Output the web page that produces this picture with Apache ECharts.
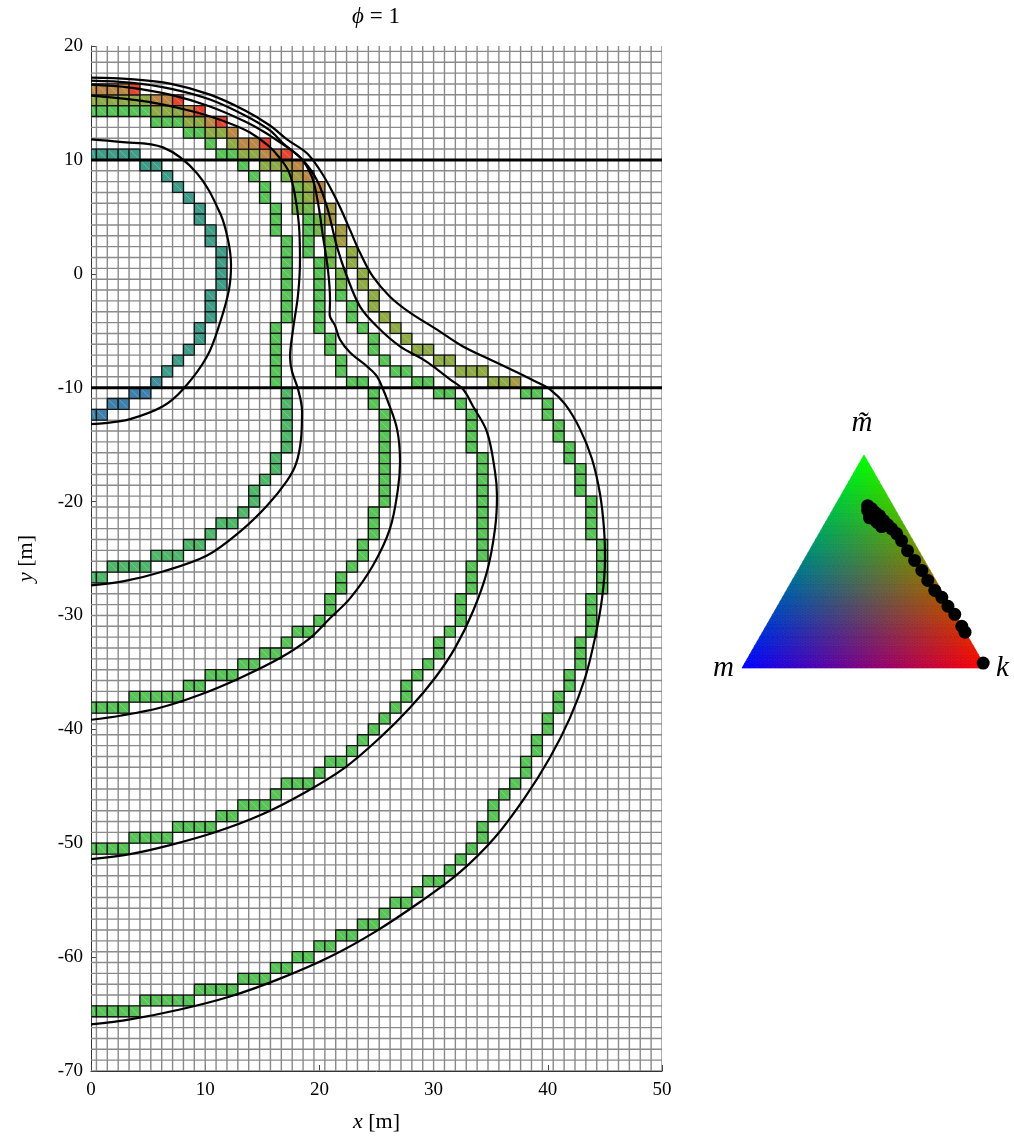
<!DOCTYPE html>
<html><head><meta charset="utf-8">
<script src="https://cdn.jsdelivr.net/npm/echarts@6/dist/echarts.min.js"></script>
<style>html,body{margin:0;padding:0;background:#fff}#c{width:1014px;height:1138px}</style>
</head><body><div id="c"></div><script>
// ---------- data ----------
const cellSize = 20/21;               // mesh cell size [m]
const xTicks = [0,10,20,30,40,50];
const yTicks = [20,10,0,-10,-20,-30,-40,-50,-60,-70];
const levelLines = [10,-10];

// contour curves (x, y) in metres
const curve1 = [[0,11.8],[2.54,11.58],[6.3,11.1],[9.28,8.83],[11.3,5.33],[12.0,2.97],[12.26,0.79],[12.08,-1.4],[11.3,-4.28],[10.16,-7.26],[8.06,-10.14],[6.3,-11.63],[3.42,-12.76],[1.23,-13.11],[0,-13.2]];
const curve2 = [[0,15.65],[4.9,15.12],[9.28,14.16],[12.17,13.2],[13.92,12.41],[15.5,11.28],[16.55,10.14],[17.34,8.92],[17.86,6.91],[18.21,4.28],[18.3,1.22],[18.13,-1.84],[17.69,-4.9],[17.43,-7.34],[17.6,-8.57],[18.13,-10.14],[18.48,-12.06],[18.39,-14.51],[17.95,-16.7],[17.16,-18.18],[15.41,-20.37],[13.05,-22.64],[10.16,-24.74],[6.3,-26.14],[2.8,-27.01],[0,-27.36]];
const curve3 = [[0,16.61],[3.42,16.35],[6.92,15.73],[10.42,14.69],[13.49,13.37],[15.24,12.41],[16.29,11.71],[18.3,10.23],[19.35,8.48],[19.88,6.21],[20.32,3.23],[20.75,0.35],[20.93,-2.27],[20.9,-3.6],[21.37,-4.55],[21.8,-5.77],[22.68,-6.91],[24.17,-8.13],[25.04,-9.0],[25.57,-10.14],[25.92,-11.01],[26.8,-13.64],[27.06,-16.52],[26.88,-18.88],[26.18,-22.38],[24.69,-25.61],[22.68,-28.5],[20.93,-30.24],[19.18,-31.99],[16.55,-33.74],[13.05,-35.49],[9.54,-36.97],[6.04,-38.11],[2.54,-38.81],[0,-39.16]];
const curve4 = [[0,16.96],[3.42,16.78],[6.92,16.26],[10.42,15.3],[13.49,13.9],[15.67,12.59],[16.81,11.45],[18.56,9.97],[19.79,8.22],[20.67,5.86],[21.54,2.36],[22.42,-0.26],[23.56,-2.88],[25.04,-4.63],[27.06,-6.38],[29.07,-7.52],[30.3,-8.39],[31.44,-9.27],[32.58,-10.14],[33.45,-11.63],[34.68,-13.9],[35.38,-17.39],[35.55,-19.49],[35.38,-22.38],[34.68,-26.14],[33.45,-29.63],[31.87,-32.87],[30.12,-35.49],[27.93,-38.11],[25.31,-40.73],[22.24,-43.36],[18.74,-45.54],[14.8,-47.55],[10.86,-49.04],[6.92,-50.17],[3.42,-50.96],[0,-51.4]];
const curve5 = [[0,17.22],[3.42,17.09],[6.92,16.7],[10.42,15.73],[13.49,14.34],[15.67,13.02],[17.16,11.8],[18.91,10.58],[20.05,9.09],[20.93,7.6],[21.8,5.86],[22.68,3.85],[23.56,1.84],[24.69,-0.26],[26.18,-2.01],[27.93,-3.41],[30.3,-4.9],[32.57,-6.38],[34.94,-7.52],[37.3,-8.65],[39.05,-9.53],[40.19,-10.14],[41.51,-11.45],[42.82,-13.64],[43.87,-16.26],[44.57,-19.32],[44.92,-22.38],[45.01,-25.0],[44.75,-28.5],[44.13,-31.99],[43.26,-35.49],[41.94,-38.99],[40.19,-42.48],[38.0,-45.98],[35.38,-49.48],[32.31,-52.54],[28.81,-55.16],[24.87,-57.78],[20.93,-59.97],[16.55,-61.89],[12.17,-63.46],[7.79,-64.6],[3.42,-65.47],[0,-65.91]];

// front cells as runs: [row k, first column i, last column i, colour key]
const front1 = [[84,0,4,'t'],[83,5,6,'t'],[82,7,7,'t'],[81,8,8,'t'],[80,9,9,'t'],[79,10,10,'t'],[78,10,10,'t'],[77,11,11,'t'],[76,11,11,'t'],[75,12,12,'t'],[74,12,12,'t'],[73,12,12,'t'],[72,12,12,'t'],[71,11,11,'t'],[70,11,11,'t'],[69,11,11,'t'],[68,10,10,'t'],[67,10,10,'t'],[66,9,9,'t'],[65,8,8,'t'],[64,7,7,'t'],[63,6,6,'tb'],[62,4,5,'u'],[61,2,3,'u'],[60,0,1,'u']];
const front2 = [[88,0,5,'g'],[87,6,8,'g'],[86,9,10,'g'],[85,11,11,'g'],[84,12,13,'g'],[83,14,14,'g'],[82,15,15,'g'],[81,16,16,'g'],[80,16,16,'g'],[79,17,17,'g'],[78,17,17,'g'],[77,17,17,'g'],[76,18,18,'g'],[75,18,18,'g'],[74,18,18,'g'],[73,18,18,'g'],[72,18,18,'g'],[71,18,18,'g'],[70,18,18,'g'],[69,18,18,'g'],[68,17,17,'g'],[67,17,17,'g'],[66,17,17,'g'],[65,17,17,'g'],[64,17,17,'g'],[63,17,17,'g'],[62,18,18,'gt'],[61,18,18,'gt'],[60,18,18,'gt'],[59,18,18,'gt'],[58,18,18,'gt'],[57,18,18,'gt'],[56,17,17,'gt'],[55,17,17,'gt'],[54,16,16,'gt'],[53,15,15,'gt'],[52,15,15,'gt'],[51,14,14,'gt'],[50,12,13,'gt'],[49,11,11,'gt'],[48,9,10,'gt'],[47,6,8,'gt'],[46,2,5,'gt'],[45,0,1,'gt']];
const front3 = [[89,0,5,'o'],[88,6,8,'o'],[87,9,10,'o'],[86,11,12,'o'],[85,13,13,'o'],[84,14,15,'o'],[83,16,17,'o'],[82,18,18,'og'],[81,19,19,'og'],[80,19,19,'og'],[79,19,19,'og'],[78,20,20,'g'],[77,20,20,'g'],[76,20,20,'g'],[75,20,20,'g'],[74,21,21,'g'],[73,21,21,'g'],[72,21,21,'g'],[71,21,21,'g'],[70,21,21,'g'],[69,21,21,'g'],[68,21,21,'g'],[67,22,22,'g'],[66,22,22,'g'],[65,23,23,'g'],[64,23,23,'g'],[63,24,25,'g'],[62,26,26,'g'],[61,26,26,'g'],[60,27,27,'g'],[59,27,27,'g'],[58,27,27,'g'],[57,27,27,'g'],[56,27,27,'g'],[55,27,27,'g'],[54,27,27,'g'],[53,27,27,'g'],[52,27,27,'g'],[51,26,26,'g'],[50,26,26,'g'],[49,26,26,'g'],[48,25,25,'g'],[47,25,25,'g'],[46,24,24,'g'],[45,23,23,'g'],[44,23,23,'g'],[43,22,22,'g'],[42,22,22,'g'],[41,21,21,'g'],[40,19,20,'g'],[39,18,18,'g'],[38,16,17,'g'],[37,14,15,'g'],[36,11,13,'g'],[35,9,10,'g'],[34,4,8,'g'],[33,0,3,'g']];
const front4 = [[90,0,3,'b'],[89,6,7,'b'],[88,9,9,'b'],[87,11,11,'b'],[86,13,13,'b'],[85,14,15,'b'],[84,16,17,'b'],[83,18,18,'ob'],[82,19,19,'ob'],[81,20,20,'o'],[80,20,20,'o'],[79,20,20,'og'],[78,21,21,'og'],[77,21,21,'og'],[76,22,22,'og'],[75,22,22,'og'],[74,22,22,'og'],[73,23,23,'og'],[72,23,23,'og'],[71,23,23,'g'],[70,24,24,'g'],[69,24,24,'g'],[68,25,25,'g'],[67,26,26,'g'],[66,26,26,'g'],[65,27,27,'g'],[64,28,29,'g'],[63,30,31,'g'],[62,32,33,'g'],[61,34,34,'g'],[60,35,35,'g'],[59,35,35,'g'],[58,35,35,'g'],[57,35,35,'g'],[56,36,36,'g'],[55,36,36,'g'],[54,36,36,'g'],[53,36,36,'g'],[52,36,36,'g'],[51,36,36,'g'],[50,36,36,'g'],[49,36,36,'g'],[48,36,36,'g'],[47,36,36,'g'],[46,35,35,'g'],[45,35,35,'g'],[44,35,35,'g'],[43,34,34,'g'],[42,34,34,'g'],[41,34,34,'g'],[40,33,33,'g'],[39,32,32,'g'],[38,32,32,'g'],[37,31,31,'g'],[36,30,30,'g'],[35,29,29,'g'],[34,29,29,'g'],[33,28,28,'g'],[32,27,27,'g'],[31,26,26,'g'],[30,25,25,'g'],[29,24,24,'g'],[28,22,23,'g'],[27,21,21,'g'],[26,18,20,'g'],[25,17,17,'g'],[24,14,16,'g'],[23,12,13,'g'],[22,8,11,'g'],[21,4,7,'g'],[20,0,3,'g']];
const front5 = [[90,4,4,'r'],[89,8,8,'r'],[88,10,10,'r'],[87,12,12,'r'],[85,16,16,'r'],[84,18,18,'r'],[83,19,19,'b'],[82,20,20,'b'],[81,21,21,'b'],[80,21,21,'b'],[79,22,22,'ob'],[78,22,22,'ob'],[77,23,23,'ob'],[76,23,23,'ob'],[75,24,24,'o'],[74,24,24,'o'],[73,25,25,'o'],[72,25,25,'o'],[71,26,26,'o'],[70,26,26,'o'],[69,27,27,'o'],[68,28,28,'o'],[67,29,29,'o'],[66,30,31,'o'],[65,32,33,'o'],[64,34,36,'o'],[63,37,38,'o'],[63,39,39,'ob'],[62,40,41,'g'],[61,42,42,'g'],[60,42,42,'g'],[59,43,43,'g'],[58,43,43,'g'],[57,44,44,'g'],[56,44,44,'g'],[55,45,45,'g'],[54,45,45,'g'],[53,45,45,'g'],[52,46,46,'g'],[51,46,46,'g'],[50,46,46,'g'],[49,46,46,'g'],[48,47,47,'g'],[47,47,47,'g'],[46,47,47,'g'],[45,47,47,'g'],[44,47,47,'g'],[43,46,46,'g'],[42,46,46,'g'],[41,46,46,'g'],[40,46,46,'g'],[39,45,45,'g'],[38,45,45,'g'],[37,45,45,'g'],[36,44,44,'g'],[35,44,44,'g'],[34,43,43,'g'],[33,43,43,'g'],[32,42,42,'g'],[31,42,42,'g'],[30,41,41,'g'],[29,41,41,'g'],[28,40,40,'g'],[27,40,40,'g'],[26,39,39,'g'],[25,38,38,'g'],[24,37,37,'g'],[23,37,37,'g'],[22,36,36,'g'],[21,36,36,'g'],[20,35,35,'g'],[19,34,34,'g'],[18,33,33,'g'],[17,31,32,'g'],[16,30,30,'g'],[15,28,29,'g'],[14,27,27,'g'],[13,25,26,'g'],[12,23,24,'g'],[11,21,22,'g'],[10,19,20,'g'],[9,17,18,'g'],[8,14,16,'g'],[7,10,13,'g'],[6,5,9,'g'],[5,0,4,'g']];

const cellColours = {g:'#58c458', gt:'#4fb66a', t:'#3f9c88', tb:'#3f8e9c', u:'#3f80aa', o:'#8eab45', og:'#72b84a', ob:'#a59a45', b:'#bc8846', r:'#e5452f'};

// ternary composition of sampled cells: [m~ fraction, k fraction]
const dotsG = [0.762,0.748,0.729,0.715,0.692,0.673,0.72,0.701,0.682,0.664,0.654,0.74,0.705,0.69,0.631,0.598,0.551,0.505,0.458,0.411,0.364,0.332,0.29,0.252,0.196,0.168,0.023];
const dotsK = [0.134,0.157,0.183,0.206,0.234,0.26,0.163,0.189,0.215,0.24,0.286,0.145,0.17,0.205,0.318,0.355,0.403,0.455,0.508,0.556,0.608,0.653,0.699,0.746,0.803,0.83,0.977];
const vertexM = [0,0,255], vertexG = [0,255,0], vertexK = [255,0,0];

// ---------- build ----------
const serif = 'Liberation Serif';
const D = cellSize;
const cells = [], cellCol = [];
[front1,front2,front3,front4,front5].forEach(f => f.forEach(r => {
  for (let i = r[1]; i <= r[2]; i++) { cells.push([i, r[0]]); cellCol.push(cellColours[r[3]]); }
}));
const gridXs = []; for (let m = 1; m <= 53; m++) gridXs.push((m - 0.5) * D);
const gridYs = []; for (let m = 0; m <= 94; m++) gridYs.push(-70 + m * D);

function lineSeries(data, w) {
  return {type:'line', xAxisIndex:0, yAxisIndex:0, data, symbol:'none', smooth:0.35, z:5,
    lineStyle:{color:'#000', width:w}, silent:true, animation:false};
}
const chart = echarts.init(document.getElementById('c'), null, {renderer:'canvas'});
const N = 48;
const option = {
  animation:false,
  backgroundColor:'#fff',
  grid:[{left:91, top:46, width:571, height:1029}, {left:742, top:455, width:244, height:213}],
  xAxis:[
    {gridIndex:0, type:'value', min:0, max:50, interval:10,
     axisLine:{show:true, onZero:false, lineStyle:{color:'#333', width:1}},
     axisTick:{inside:true, length:6, lineStyle:{color:'#444'}},
     axisLabel:{fontFamily:serif, fontSize:19, color:'#000', margin:10},
     splitLine:{show:false},
     name:'{i|x} [m]', nameLocation:'middle', nameGap:40,
     nameTextStyle:{fontFamily:serif, fontSize:22, color:'#000', rich:{i:{fontFamily:serif, fontStyle:'italic', fontSize:22, color:'#000'}}}},
    {gridIndex:1, type:'value', min:0, max:1, show:false}
  ],
  yAxis:[
    {gridIndex:0, type:'value', min:-70, max:20, interval:10,
     axisLine:{show:true, onZero:false, lineStyle:{color:'#333', width:1}},
     axisTick:{inside:true, length:6, lineStyle:{color:'#444'}},
     axisLabel:{fontFamily:serif, fontSize:19, color:'#000', margin:8},
     splitLine:{show:false},
     name:'{i|y} [m]', nameLocation:'middle', nameGap:54, nameRotate:90,
     nameTextStyle:{fontFamily:serif, fontSize:22, color:'#000', rich:{i:{fontFamily:serif, fontStyle:'italic', fontSize:22, color:'#000'}}}},
    {gridIndex:1, type:'value', min:0, max:1, show:false}
  ],
  graphic:[
    {type:'text', x:376, y:17, style:{text:'{i|ϕ} = 1', rich:{i:{fontFamily:serif, fontStyle:'italic', fontSize:23}}, fontFamily:serif, fontSize:23, fill:'#000', align:'center', verticalAlign:'middle'}},
    {type:'text', x:862, y:438, style:{text:'m̃', fontFamily:serif, fontStyle:'italic', fontSize:29, fill:'#000', align:'center', verticalAlign:'bottom'}},
    {type:'text', x:734, y:668, style:{text:'m', fontFamily:serif, fontStyle:'italic', fontSize:29, fill:'#000', align:'right', verticalAlign:'middle'}},
    {type:'text', x:996, y:668, style:{text:'k', fontFamily:serif, fontStyle:'italic', fontSize:29, fill:'#000', align:'left', verticalAlign:'middle'}}
  ],
  series:[
    {type:'custom', xAxisIndex:0, yAxisIndex:0, data:gridXs, z:1, silent:true, clip:true,
     renderItem:(p, api) => { const a = api.coord([api.value(0), -70]), b = api.coord([api.value(0), 20]);
       return {type:'line', shape:{x1:a[0], y1:a[1], x2:b[0], y2:b[1]}, style:{stroke:'#8a8a8a', lineWidth:1.4}}; }},
    {type:'custom', xAxisIndex:0, yAxisIndex:0, data:gridYs, z:1, silent:true, clip:true,
     renderItem:(p, api) => { const a = api.coord([0, api.value(0)]), b = api.coord([50, api.value(0)]);
       return {type:'line', shape:{x1:a[0], y1:a[1], x2:b[0], y2:b[1]}, style:{stroke:'#8a8a8a', lineWidth:1.4}}; }},
    {type:'custom', xAxisIndex:0, yAxisIndex:0, data:cells, z:2, silent:true, clip:true,
     renderItem:(p, api) => {
       const i = api.value(0), k = api.value(1);
       const x0 = i === 0 ? 0 : (i - 0.5) * D, x1 = (i + 0.5) * D, y0 = -70 + k * D, y1 = y0 + D;
       const tl = api.coord([x0, y1]), br = api.coord([x1, y0]);
       return {type:'group', children:[
         {type:'rect', shape:{x:tl[0], y:tl[1], width:br[0]-tl[0], height:br[1]-tl[1]}, style:{fill:cellCol[p.dataIndex], stroke:'#151515', lineWidth:1.3}},
         {type:'line', shape:{x1:tl[0]+1.5, y1:tl[1]+1.5, x2:br[0]-1.5, y2:br[1]-1.5}, style:{stroke:'rgba(255,255,255,0.35)', lineWidth:0.7}}
       ]};
     }},
    lineSeries(curve1, 2.2), lineSeries(curve2, 2.2), lineSeries(curve3, 2.2), lineSeries(curve4, 2.2), lineSeries(curve5, 2.2),
    {type:'line', xAxisIndex:0, yAxisIndex:0, data:[[0,levelLines[0]],[50,levelLines[0]]], symbol:'none', z:6, lineStyle:{color:'#000', width:3}, silent:true},
    {type:'line', xAxisIndex:0, yAxisIndex:0, data:[[0,levelLines[1]],[50,levelLines[1]]], symbol:'none', z:6, lineStyle:{color:'#000', width:3}, silent:true},
    // ternary colour triangle
    {type:'custom', xAxisIndex:1, yAxisIndex:1, data:[[0]], z:1, silent:true, clip:false,
     renderItem:(p, api) => {
       const ch = [];
       const pt = (u, v) => api.coord([(u + v / 2) / N, v / N]);
       const col = (u, v) => { const k = u / N, g = v / N, m = 1 - k - g;
         const c = [0,1,2].map(j => Math.round(m * vertexM[j] + g * vertexG[j] + k * vertexK[j]));
         return 'rgb(' + c.join(',') + ')'; };
       for (let v = 0; v < N; v++) for (let u = 0; u + v < N; u++) {
         const c1 = col(u + 1/3, v + 1/3);
         ch.push({type:'polygon', shape:{points:[pt(u,v), pt(u+1,v), pt(u,v+1)]}, style:{fill:c1, stroke:c1, lineWidth:0.7}});
         if (u + v + 2 <= N) { const c2 = col(u + 2/3, v + 2/3);
           ch.push({type:'polygon', shape:{points:[pt(u+1,v), pt(u+1,v+1), pt(u,v+1)]}, style:{fill:c2, stroke:c2, lineWidth:0.7}}); }
       }
       return {type:'group', children:ch};
     }},
    {type:'scatter', xAxisIndex:1, yAxisIndex:1, z:3, symbolSize:13, silent:true,
     itemStyle:{color:'#000', opacity:1},
     data: dotsG.map((g, j) => [dotsK[j] + g / 2, g])}
  ]
};
chart.setOption(option);
</script></body></html>
